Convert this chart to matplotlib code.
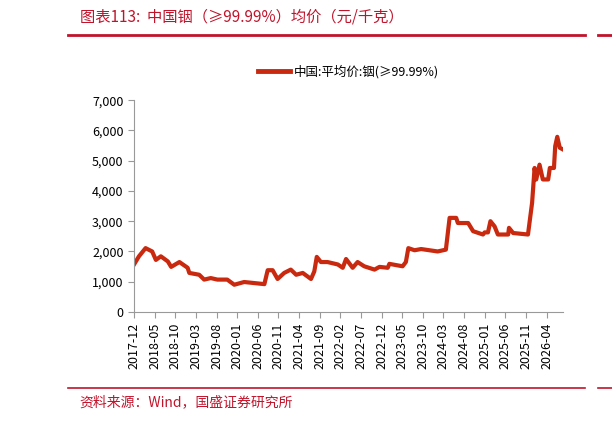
import matplotlib
matplotlib.use("Agg")
import matplotlib.pyplot as plt
from matplotlib.lines import Line2D

plt.rcParams['font.family'] = ['Noto Sans CJK SC', 'DejaVu Sans']

# months since 2017-12
months = [0, 1.2, 2.8, 4.4, 5.3, 6.5, 8.2, 9.0, 11.0, 13.0, 13.4, 15.8, 17.0, 18.6, 20.2, 22.6, 24.3,
          26.7, 31.6, 32.4, 33.6, 34.8, 36.4, 38.0, 39.3, 40.9, 42.9, 43.7, 44.3, 45.3, 46.9, 49.4,
          50.6, 51.4, 53.0, 54.2, 55.8, 58.3, 59.5, 61.5, 61.9, 65.1, 65.9, 66.5, 68.0, 69.6, 73.6,
          75.6, 76.5, 78.1, 78.5, 81.0, 82.2, 84.6, 85.0, 85.8, 86.4, 87.4, 88.2, 90.7, 90.9, 91.9,
          95.5, 96.5, 97.1, 97.5, 98.3, 99.1, 100.4, 100.8, 101.8, 102.1, 102.6, 103.2, 104.0]
price = [1570, 1840, 2110, 2000, 1720, 1840, 1670, 1490, 1650, 1460, 1290, 1230, 1070, 1120, 1070,
         1070, 900, 990, 920, 1380, 1380, 1090, 1290, 1400, 1230, 1290, 1090, 1340, 1820, 1650,
         1650, 1570, 1460, 1750, 1460, 1650, 1510, 1400, 1490, 1460, 1590, 1510, 1650, 2110, 2040,
         2080, 2000, 2060, 3110, 3110, 2940, 2940, 2670, 2560, 2630, 2630, 3000, 2830, 2560, 2560,
         2780, 2610, 2560, 3610, 4760, 4380, 4870, 4380, 4380, 4760, 4760, 5480, 5790, 5430, 5370]
tick_labels = ['2017-12', '2018-05', '2018-10', '2019-03', '2019-08', '2020-01', '2020-06',
               '2020-11', '2021-04', '2021-09', '2022-02', '2022-07', '2022-12', '2023-05',
               '2023-10', '2024-03', '2024-08', '2025-01', '2025-06', '2025-11', '2026-04']

red = '#C8290F'
fig = plt.figure(figsize=(6.12, 4.21), dpi=100)
ax = fig.add_axes([0.219, 0.259, 0.701, 0.503])
ax.plot(months, price, color=red, lw=3, solid_joinstyle='round')
ax.set_xlim(0, 104)
ax.set_ylim(0, 7000)
ax.set_yticks(range(0, 7001, 1000))
ax.set_yticklabels([f'{v:,}' for v in range(0, 7001, 1000)], fontsize=9)
ax.set_xticks([5 * i for i in range(len(tick_labels))])
ax.set_xticklabels(tick_labels, rotation=90, fontsize=9)
for s in ['top', 'right']:
    ax.spines[s].set_visible(False)
for s in ['left', 'bottom']:
    ax.spines[s].set_color('#999999')
ax.tick_params(colors='#999999', labelcolor='black', length=4)

ax.legend([Line2D([0], [0], color=red, lw=3.5)], ['中国:平均价:铟(≥99.99%)'],
          loc='lower center', bbox_to_anchor=(0.5, 1.05), frameon=False, fontsize=9,
          handlelength=2.5, handletextpad=0.3)

fig.text(0.13, 0.96, '图表113:  中国铟（≥99.99%）均价（元/千克）', color='#C0142B',
         fontsize=11, style='italic', va='center')
fig.add_artist(Line2D([0.111, 0.956], [0.917, 0.917], color='#C0142B', lw=2))
fig.add_artist(Line2D([0.977, 1.0], [0.917, 0.917], color='#C0142B', lw=2))
fig.add_artist(Line2D([0.111, 0.956], [0.078, 0.078], color='#C0142B', lw=1.2))
fig.add_artist(Line2D([0.977, 1.0], [0.078, 0.078], color='#C0142B', lw=1.2))
fig.text(0.13, 0.045, '资料来源：Wind，国盛证券研究所', color='#C0142B', fontsize=10,
         style='italic', va='center')
fig.savefig('out.png', dpi=100)
